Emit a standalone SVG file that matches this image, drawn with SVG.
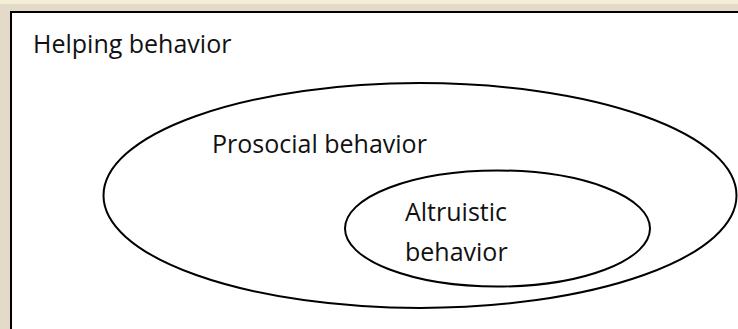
<svg xmlns="http://www.w3.org/2000/svg" width="738" height="329" viewBox="0 0 738 329">
<style>
.lbl{font-family:"Open Sans","Noto Sans","Liberation Sans",sans-serif;font-size:25px;fill:#111}
.ell{fill:none;stroke:#000;stroke-width:2}
</style>
<rect x="0" y="0" width="738" height="329" fill="#e4dac8"/>
<rect x="0" y="0" width="738" height="4" fill="#f4eed8"/>
<g id="helping">
<rect x="11" y="12" width="740" height="330" fill="#fff" stroke="#000" stroke-width="2"/>
<text class="lbl" x="33" y="53">Helping behavior</text>
</g>
<g id="prosocial">
<ellipse class="ell" cx="420" cy="195.5" rx="316.5" ry="112.5"/>
<text class="lbl" x="212" y="153">Prosocial behavior</text>
</g>
<g id="altruistic">
<ellipse class="ell" cx="497.5" cy="228.5" rx="152.5" ry="58"/>
<text class="lbl" x="405" y="221">Altruistic</text>
<text class="lbl" x="405" y="261">behavior</text>
</g>
<g id="connectors"/>
</svg>
